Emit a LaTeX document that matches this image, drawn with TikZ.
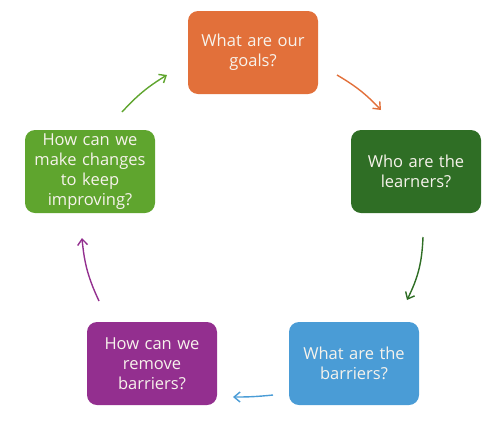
\documentclass[tikz,border=0pt]{standalone}
\usepackage{fontspec}
\setsansfont{Open Sans}
\usetikzlibrary{arrows.meta}

\definecolor{goalsorange}{HTML}{E2703A}
\definecolor{learnersgreen}{HTML}{2F6E25}
\definecolor{barriersblue}{HTML}{4A9CD6}
\definecolor{removepurple}{HTML}{932F8F}
\definecolor{improvegreen}{HTML}{5FA52E}
\definecolor{boxtext}{HTML}{F7F3EC}

\begin{document}
\begin{tikzpicture}[x=1pt, y=-1pt, semithick, >={Straight Barb[length=6pt,width=10pt]},
    question/.style={rectangle, rounded corners=10pt, minimum width=130pt, minimum height=83pt,
        text width=126pt, align=center, inner sep=0pt, text=boxtext,
        font=\sffamily\fontsize{16.5}{20}\selectfont},
    loop/.style={->, line width=1.4pt}]
    \useasboundingbox (0,0) rectangle (501,424);
    	\node[question, fill=goalsorange] (goals) at (253,52.5) {What are our\\goals?};
    	\node[question, fill=learnersgreen] (learners) at (416,171.5) {Who are the\\learners?};
    	\node[question, fill=barriersblue] (barriers) at (354,363.5) {What are the\\barriers?};
    	\node[question, fill=removepurple] (remove) at (152,363.5) {How can we\\remove\\barriers?};
    	\node[question, fill=improvegreen] (improve) at (90,171.5) {How can we\\make changes\\to keep\\improving?};
    	% arrow ends
    	\coordinate (g1) at (337,75);   \coordinate (g2) at (381,110);
    	\coordinate (l1) at (423,237);  \coordinate (l2) at (407,300);
    	\coordinate (b1) at (273,395);  \coordinate (b2) at (233,397);
    	\coordinate (r1) at (99,301);   \coordinate (r2) at (82,238);
    	\coordinate (i1) at (122,112);  \coordinate (i2) at (167,75);
    	\draw[loop, goalsorange] (g1) to[bend left=8] (g2);
    	\draw[loop, learnersgreen] (l1) to[bend left=12] (l2);
    	\draw[loop, barriersblue] (b1) to[bend left=3] (b2);
    	\draw[loop, removepurple] (r1) to[bend left=10] (r2);
    	\draw[loop, improvegreen] (i1) to[bend left=8] (i2);
\end{tikzpicture}
\end{document}
